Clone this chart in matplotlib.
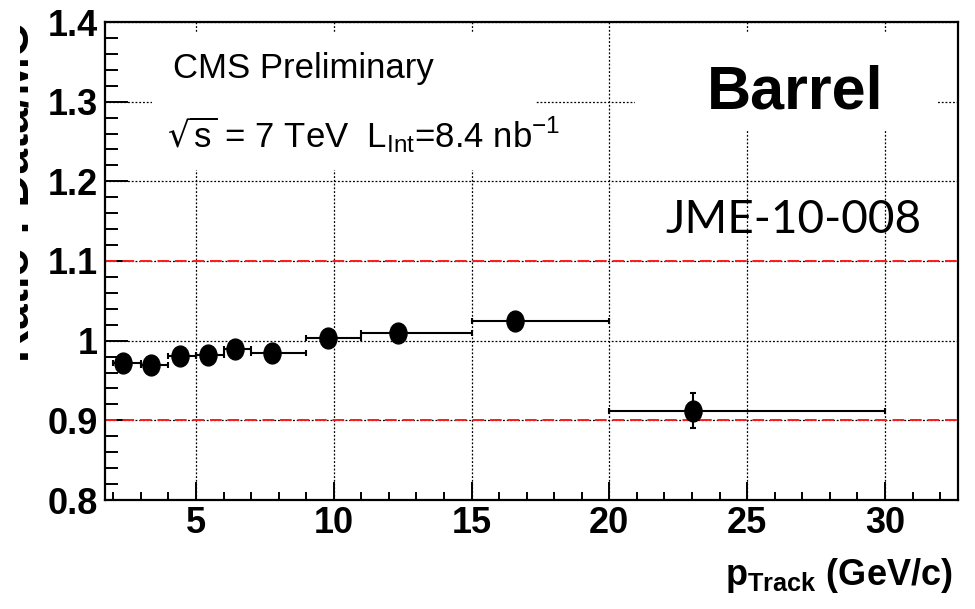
import matplotlib
matplotlib.use('Agg')
import matplotlib.pyplot as plt
from matplotlib.patches import Rectangle
from matplotlib.path import Path
from matplotlib.transforms import Affine2D, Bbox

# ratio data/MC vs track momentum, barrel
bin_lo = [2, 3, 4, 5, 6, 7, 9, 11, 15, 20]
bin_hi = [3, 4, 5, 6, 7, 9, 11, 15, 20, 30]
p_mean = [2.35, 3.37, 4.43, 5.42, 6.42, 7.75, 9.78, 12.34, 16.58, 23.02]
ratio = [0.972, 0.970, 0.981, 0.982, 0.989, 0.984, 1.003, 1.010, 1.025, 0.912]
ratio_err = [0.004, 0.004, 0.004, 0.004, 0.005, 0.005, 0.006, 0.006, 0.008, 0.022]
x_ticks = [5, 10, 15, 20, 25, 30]
y_ticks = [0.8, 0.9, 1.0, 1.1, 1.2, 1.3, 1.4]
y_ticklabels = ['0.8', '0.9', '1', '1.1', '1.2', '1.3', '1.4']
band = [0.9, 1.1]

narrow = ['Liberation Sans Narrow', 'Liberation Sans', 'DejaVu Sans']
wide = ['Liberation Sans', 'DejaVu Sans']
plt.rcParams['font.family'] = wide
plt.rcParams['mathtext.default'] = 'regular'

fig = plt.figure(figsize=(9.75, 6.09), dpi=100)
ax = fig.add_axes([105/975, 109/609, 853/975, 478/609])

xerr_lo = [p - lo for p, lo in zip(p_mean, bin_lo)]
xerr_hi = [hi - p for p, hi in zip(p_mean, bin_hi)]

ellipse = Path.unit_circle().transformed(Affine2D().scale(0.82, 1.0))
ax.errorbar(p_mean, ratio, xerr=[xerr_lo, xerr_hi], yerr=ratio_err,
            fmt='none', ecolor='black', elinewidth=1.5, capsize=2.5,
            capthick=1.5, zorder=3)
ax.plot(p_mean, ratio, linestyle='none', marker=ellipse, markersize=15,
        color='black', zorder=4)

for b in band:
    ax.axhline(b, color='#ff1a1a', linestyle=(0, (6, 3)), linewidth=1.4, zorder=2)

ax.set_xlim(1.7, 32.65)
ax.set_ylim(0.8, 1.4)
ax.set_xticks(x_ticks)
ax.set_xticks(range(2, 33), minor=True)
ax.set_yticks(y_ticks)
ax.set_yticklabels(y_ticklabels)
ax.set_yticks([0.8 + 0.02 * i for i in range(31)], minor=True)
ax.set_axisbelow(True)
ax.grid(True, which='major', color='black', linestyle=(0, (1.5, 1.5)), linewidth=0.9)

ax.tick_params(axis='x', which='major', direction='in', length=13, width=1.4,
               labelsize=26, pad=4)
ax.tick_params(axis='x', which='minor', direction='in', length=5.5, width=1.4)
ax.tick_params(axis='y', which='major', direction='in', length=16.5, width=1.4,
               labelsize=26, pad=5)
ax.tick_params(axis='y', which='minor', direction='in', length=9, width=1.4)
for lab in ax.get_xticklabels() + ax.get_yticklabels():
    lab.set_fontweight('bold')
for sp in ax.spines.values():
    sp.set_linewidth(1.6)

# white label boxes hiding the grid
ax.add_patch(Rectangle((0.055, 0.690), 0.449, 0.287, transform=ax.transAxes,
                       facecolor='white', edgecolor='none', zorder=1))
ax.add_patch(Rectangle((0.621, 0.774), 0.354, 0.203, transform=ax.transAxes,
                       facecolor='white', edgecolor='none', zorder=1))

ax.text(0.0797, 0.883, 'CMS Preliminary', transform=ax.transAxes,
        family=narrow, fontsize=25, va='baseline', zorder=5)
ax.text(0.0727, 0.738, r'$\sqrt{s}$ = 7 TeV  L$_{Int}$=8.4 nb$^{-1}$',
        transform=ax.transAxes, family=narrow, fontsize=25, va='baseline', zorder=5)
ax.text(0.706, 0.820, 'Barrel', transform=ax.transAxes, family=narrow,
        fontweight='bold', fontsize=44, va='baseline', zorder=5)
ax.text(0.6565, 0.5586, 'JME-10-008', transform=ax.transAxes,
        family=['Lato', 'DejaVu Sans'], fontsize=33, va='baseline', zorder=5)

ax.text(0.994, -0.178, r'p$_{Track}$ (GeV/c)', transform=ax.transAxes,
        fontsize=26, fontweight='bold', ha='right', va='baseline')

ylab = fig.text(29/975, 586/609, 'Ratio : Data/MC', rotation=90,
                rotation_mode='anchor', ha='right', va='baseline',
                fontsize=33, fontweight='bold')
ylab.set_clip_box(Bbox.from_extents(20, 0, 975, 609))
ylab.set_clip_on(True)

fig.savefig('out.png', dpi=100)
